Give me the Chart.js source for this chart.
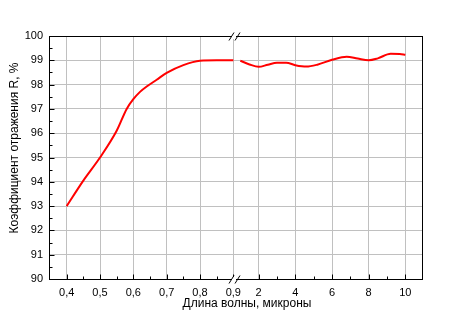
<!DOCTYPE html>
<html>
<head>
<meta charset="utf-8">
<script src="https://cdn.jsdelivr.net/npm/chart.js@4"></script>
<style>
  body { margin: 0; background: #fff; }
  #wrap { width: 450px; height: 330px; }
</style>
</head>
<body>
<div id="wrap"><canvas id="reflChart" width="450" height="330"></canvas></div>
<script>
// visible range, microns
const waveShort = [0.40, 0.45, 0.50, 0.55, 0.58, 0.60, 0.62, 0.64, 0.67, 0.70, 0.75, 0.80, 0.85, 0.90];
const reflShort = [93.0, 94.05, 95.0, 96.1, 97.0, 97.4, 97.7, 97.92, 98.2, 98.48, 98.8, 98.98, 99.0, 99.0];

// infrared range, microns
const waveLong = [1.0, 1.5, 2.0, 2.5, 3.0, 3.5, 4.0, 4.6, 5.2, 6.0, 6.8, 7.4, 8.0, 8.5, 9.2, 9.7, 10.0];
const reflLong = [98.98, 98.83, 98.73, 98.82, 98.9, 98.9, 98.8, 98.74, 98.82, 99.02, 99.15, 99.07, 99.0, 99.08, 99.27, 99.26, 99.23];

const tickWaves = [0.4, 0.5, 0.6, 0.7, 0.8, 0.9, 2, 4, 6, 8, 10];
const tickLabels = ['0,4', '0,5', '0,6', '0,7', '0,8', '0,9', '2', '4', '6', '8', '10'];
const minorWaves = [0.45, 0.55, 0.65, 0.75, 0.85, 3, 5, 7, 9];

// broken axis: 0.4..0.9 on one scale, 1..10 on a compressed one
function toAxis(w) {
    if (w <= 0.95) return (w - 0.4) * 10;
    return 5.76 + (w - 2) * 0.55;
}

function pairs(ws, rs) {
    return ws.map((w, i) => ({ x: toAxis(w), y: rs[i] }));
}

const font = 'Liberation Sans, Arial, sans-serif';

const extras = {
    id: 'extras',
    afterDraw(chart) {
        const ctx = chart.ctx;
        const a = chart.chartArea;
        const xs = chart.scales.x;
        const ys = chart.scales.y;
        ctx.save();
        ctx.strokeStyle = '#000';
        ctx.lineWidth = 1;

        // frame
        ctx.strokeRect(Math.round(a.left) + 0.5, Math.round(a.top) + 0.5,
            Math.round(a.right - a.left) - 1, Math.round(a.bottom - a.top));

        // ticks inside
        ctx.beginPath();
        const b = Math.round(a.bottom) + 0.5;
        tickWaves.forEach(w => {
            const px = Math.round(xs.getPixelForValue(toAxis(w))) + 0.5;
            ctx.moveTo(px, b); ctx.lineTo(px, b - 5);
        });
        minorWaves.forEach(w => {
            const px = Math.round(xs.getPixelForValue(toAxis(w))) + 0.5;
            ctx.moveTo(px, b); ctx.lineTo(px, b - 3);
        });
        const l = Math.round(a.left) + 0.5;
        for (let v = 90; v <= 100; v += 0.5) {
            const py = Math.round(ys.getPixelForValue(v)) + 0.5;
            ctx.moveTo(l, py); ctx.lineTo(l + (v % 1 === 0 ? 5 : 3), py);
        }
        ctx.stroke();

        // break marks
        const bx = Math.round(xs.getPixelForValue(toAxis(0.9)));
        [Math.round(a.top), Math.round(a.bottom)].forEach(y0 => {
            ctx.fillStyle = '#fff';
            ctx.fillRect(bx - 1, y0 - 2, 4, 5);
            ctx.beginPath();
            ctx.moveTo(bx - 4, y0 + 4.5); ctx.lineTo(bx + 1, y0 - 3.5);
            ctx.moveTo(bx + 2, y0 + 4.5); ctx.lineTo(bx + 7, y0 - 3.5);
            ctx.stroke();
        });

        // axis titles
        ctx.fillStyle = '#000';
        ctx.font = '12px ' + font;
        ctx.textAlign = 'center';
        ctx.textBaseline = 'middle';
        ctx.fillText('Длина волны, микроны', 247, 304);
        ctx.translate(15, 148);
        ctx.rotate(-Math.PI / 2);
        ctx.fillText('Коэффициент отражения R, %', 0, 0);
        ctx.restore();
    }
};

const ctx = document.getElementById('reflChart').getContext('2d');
const chart = new Chart(ctx, {
    type: 'line',
    data: {
        datasets: [{
            data: pairs(waveShort, reflShort),
            borderColor: '#ff0000',
            borderWidth: 2,
            pointRadius: 0,
            tension: 0.4,
            cubicInterpolationMode: 'monotone',
            fill: false
        }, {
            data: pairs(waveLong, reflLong),
            borderColor: '#ff0000',
            borderWidth: 2,
            pointRadius: 0,
            tension: 0.4,
            cubicInterpolationMode: 'monotone',
            fill: false
        }]
    },
    options: {
        responsive: false,
        animation: false,
        layout: { padding: { top: 36, right: 27, left: 0, bottom: 0 } },
        plugins: { legend: { display: false }, tooltip: { enabled: false } },
        scales: {
            x: {
                type: 'linear',
                min: -0.53,
                max: 10.69,
                afterBuildTicks: s => { s.ticks = tickWaves.map(w => ({ value: toAxis(w) })); },
                afterFit: s => { s.height = 51; },
                grid: { color: '#c0c0c0', drawTicks: false },
                border: { display: false },
                ticks: {
                    autoSkip: false,
                    maxRotation: 0,
                    padding: 7,
                    color: '#000',
                    font: { family: font, size: 11 },
                    callback: (v, i) => tickLabels[i]
                }
            },
            y: {
                min: 90,
                max: 100,
                afterFit: s => { s.width = 49; },
                grid: { color: '#c0c0c0', drawTicks: false },
                border: { display: false },
                ticks: {
                    stepSize: 1,
                    padding: 6,
                    color: '#000',
                    font: { family: font, size: 11 }
                }
            }
        }
    },
    plugins: [extras]
});
</script>
</body>
</html>
